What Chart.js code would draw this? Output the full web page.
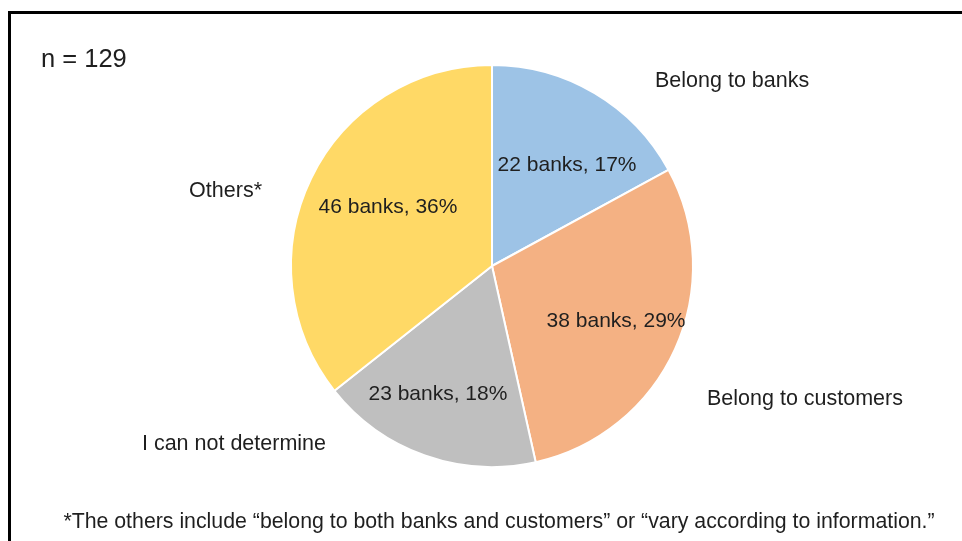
<!DOCTYPE html>
<html>
<head>
<meta charset="utf-8">
<script src="https://cdn.jsdelivr.net/npm/chart.js@4"></script>
<style>
  body { margin: 0; background: #fff; }
  #wrap { position: relative; width: 962px; height: 541px; }
  #frame { position: absolute; left: 8px; top: 11px; right: -10px; bottom: -10px;
           border-top: 3px solid #000; border-left: 3px solid #000; }
</style>
</head>
<body>
<div id="wrap">
  <div id="frame"></div>
  <canvas id="pie-chart" width="962" height="541"></canvas>
</div>
<script>
const categories = ["Belong to banks", "Belong to customers", "I can not determine", "Others*"];
const bankCounts = [22, 38, 23, 46];
const sliceColors = ["#9DC3E6", "#F4B183", "#BFBFBF", "#FFD966"];
const sampleSize = 129;
const footnote = "*The others include \u201cbelong to both banks and customers\u201d or \u201cvary according to information.\u201d";

const FONT = "'Liberation Sans', Arial, sans-serif";
const TEXT = "#1f1f1f";
const TEXT_DROP = 2; // glyphs sit a touch below their "middle" baseline

// inside labels: fraction of the radius and a small turn (degrees) off each slice's middle angle
const insideFrac = [0.634, 0.671, 0.682, 0.6];
const insideTurn = [5.4, -1.3, 3.7, 4.6];

// outer category labels: [dx, dy, align] relative to the pie centre
const outerPos = [
  [163, -187, "left"],
  [215, 131, "left"],
  [-166, 176, "right"],
  [-230, -77, "right"],
];

const labelPlugin = {
  id: "sliceLabels",
  afterDatasetsDraw(chart) {
    const { ctx } = chart;
    const arcs = chart.getDatasetMeta(0).data;
    const total = bankCounts.reduce((a, b) => a + b, 0);
    ctx.save();
    ctx.fillStyle = TEXT;
    ctx.textBaseline = "middle";

    ctx.font = `21px ${FONT}`;
    ctx.textAlign = "center";
    arcs.forEach((arc, i) => {
      const mid = (arc.startAngle + arc.endAngle) / 2 + (insideTurn[i] * Math.PI) / 180;
      const r = arc.outerRadius * insideFrac[i];
      const x = arc.x + Math.cos(mid) * r;
      const y = arc.y + Math.sin(mid) * r + TEXT_DROP;
      const pct = Math.round((bankCounts[i] / total) * 100);
      ctx.fillText(`${bankCounts[i]} banks, ${pct}%`, x, y);
    });

    ctx.font = `21.5px ${FONT}`;
    arcs.forEach((arc, i) => {
      const [dx, dy, align] = outerPos[i];
      ctx.textAlign = align;
      ctx.fillText(categories[i], arc.x + dx, arc.y + dy + TEXT_DROP);
    });

    ctx.textAlign = "left";
    ctx.font = `25.5px ${FONT}`;
    ctx.fillText(`n = ${sampleSize}`, 41, 58 + TEXT_DROP);

    ctx.textAlign = "center";
    ctx.font = `21.3px ${FONT}`;
    ctx.fillText(footnote, 499, 520 + TEXT_DROP);
    ctx.restore();
  },
};

new Chart(document.getElementById("pie-chart"), {
  type: "pie",
  data: {
    labels: categories,
    datasets: [
      {
        data: bankCounts,
        backgroundColor: sliceColors,
        borderColor: "#ffffff",
        borderWidth: 2,
      },
    ],
  },
  options: {
    responsive: false,
    animation: false,
    radius: 201,
    layout: { padding: { left: 282, right: 260, top: 56, bottom: 65 } },
    plugins: {
      legend: { display: false },
      tooltip: { enabled: false },
    },
  },
  plugins: [labelPlugin],
});
</script>
</body>
</html>
